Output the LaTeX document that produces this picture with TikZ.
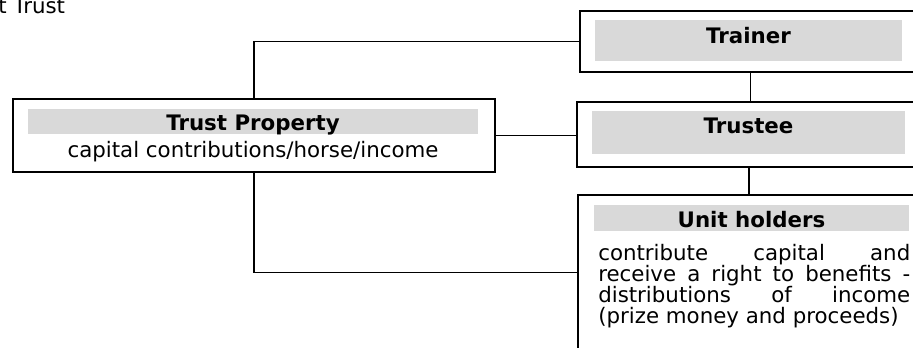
\documentclass[tikz,border=0pt]{standalone}
\usepackage{fontspec}
\setmainfont{DejaVu Sans}
\usetikzlibrary{calc}
\definecolor{barfill}{HTML}{D9D9D9}
\begin{document}
\begin{tikzpicture}[x=0.75pt,y=-0.75pt,
  box/.style={draw=black, line width=1.4pt, anchor=north west, inner sep=0pt},
  bar/.style={fill=barfill, draw=none, anchor=north west, inner sep=0pt},
  ttl/.style={font=\fontsize{16}{19}\selectfont\bfseries, anchor=base, inner sep=0pt},
  txt/.style={font=\fontsize{16}{19}\selectfont, anchor=base, inner sep=0pt},
  jline/.style={font=\fontsize{16}{19}\selectfont, anchor=base west, inner sep=0pt},
  link/.style={draw=black, line width=1.4pt}]
\useasboundingbox (0,0) rectangle (913,347);
\clip (0,0) rectangle (913,347);
% heading
\node[txt, anchor=base west] (head) at (-2,13) {t Trust};
% boxes
\node[box, minimum width=341*0.75pt, minimum height=61*0.75pt] (trainer) at (579,10) {};
\node[box, minimum width=344*0.75pt, minimum height=65*0.75pt] (trustee) at (576,101) {};
\node[box, minimum width=343*0.75pt, minimum height=155*0.75pt] (uh) at (577,194) {};
\node[box, minimum width=482*0.75pt, minimum height=73*0.75pt] (tp) at (12,98) {};
% grey bars
\node[bar, minimum width=307*0.75pt, minimum height=41*0.75pt] (trainerbar) at (595,20) {};
\node[bar, minimum width=313*0.75pt, minimum height=43*0.75pt] (trusteebar) at (592,111) {};
\node[bar, minimum width=315*0.75pt, minimum height=26*0.75pt] (uhbar) at (594,205) {};
\node[bar, minimum width=450*0.75pt, minimum height=25*0.75pt] (tpbar) at (28,109) {};
% titles
\node[ttl] (trainert) at (748.5,43) {Trainer};
\node[ttl] (trusteet) at (748.5,133) {Trustee};
\node[ttl] (uht) at (751.5,227) {Unit holders};
\node[ttl] (tpt) at (253,130) {Trust Property};
\node[txt] (tpb) at (253,157) {capital contributions/horse/income};
\node[jline] (l1) at (598,260) {\makebox[234pt][s]{contribute capital and}};
\node[jline] (l2) at (598,281) {\makebox[234pt][s]{receive a right to benefits -}};
\node[jline] (l3) at (598,302) {\makebox[234pt][s]{distributions of income}};
\node[jline] (l4) at (598,323) {(prize money and proceeds)};
% connectors
\draw[link] (tp.north) |- (trainer.west);
\draw[link] (tp.east) -- (tp.east -| trustee.west);
\draw[link] (tp.south) |- (uh.west);
\draw[link] (trainer.south) -- (trainer.south |- trustee.north);
\draw[link] (trustee.south) -- (trustee.south |- uh.north);
\end{tikzpicture}
\end{document}
